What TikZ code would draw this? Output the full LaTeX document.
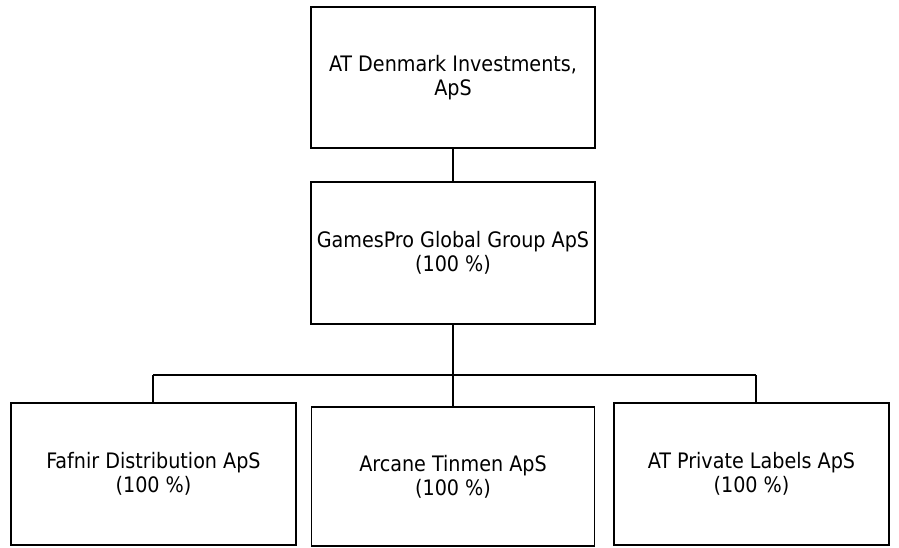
\documentclass[tikz,border=0pt]{standalone}
\usepackage{fontspec}
\setmainfont{DejaVu Sans Condensed}
\begin{document}
\begin{tikzpicture}[x=1pt,y=-1pt,
  orgbox/.style={draw,line width=1.2pt,align=center,inner sep=0pt,font=\fontsize{21.3}{24}\selectfont},
  link/.style={line width=1.3pt}]
  \useasboundingbox (0,0) rectangle (899,547);
  % companies
  \node[orgbox,minimum width=284pt,minimum height=141pt] (atdk) at (453,77.5) {AT Denmark Investments,\\ApS};
  \node[orgbox,minimum width=284pt,minimum height=142pt] (games) at (453,253) {GamesPro Global Group ApS\\(100 \%)};
  \node[orgbox,minimum width=285pt,minimum height=142pt] (fafnir) at (153.5,474) {Fafnir Distribution ApS\\(100 \%)};
  \node[orgbox,minimum width=283pt,minimum height=139pt] (arcane) at (453,476.5) {Arcane Tinmen ApS\\(100 \%)};
  \node[orgbox,minimum width=275pt,minimum height=142pt] (atpl) at (751.5,474) {AT Private Labels ApS\\(100 \%)};
  % bus
  \coordinate (busl) at (153,375);
  \coordinate (busm) at (453,375);
  \coordinate (busr) at (756,375);
  \draw[link] (atdk) -- (games);
  \draw[link] (games.south) -- (busm) -- (arcane.north);
  \draw[link] (busl) -- (busr);
  \draw[link] (busl) -- (busl |- fafnir.north);
  \draw[link] (busr) -- (busr |- atpl.north);
\end{tikzpicture}
\end{document}
